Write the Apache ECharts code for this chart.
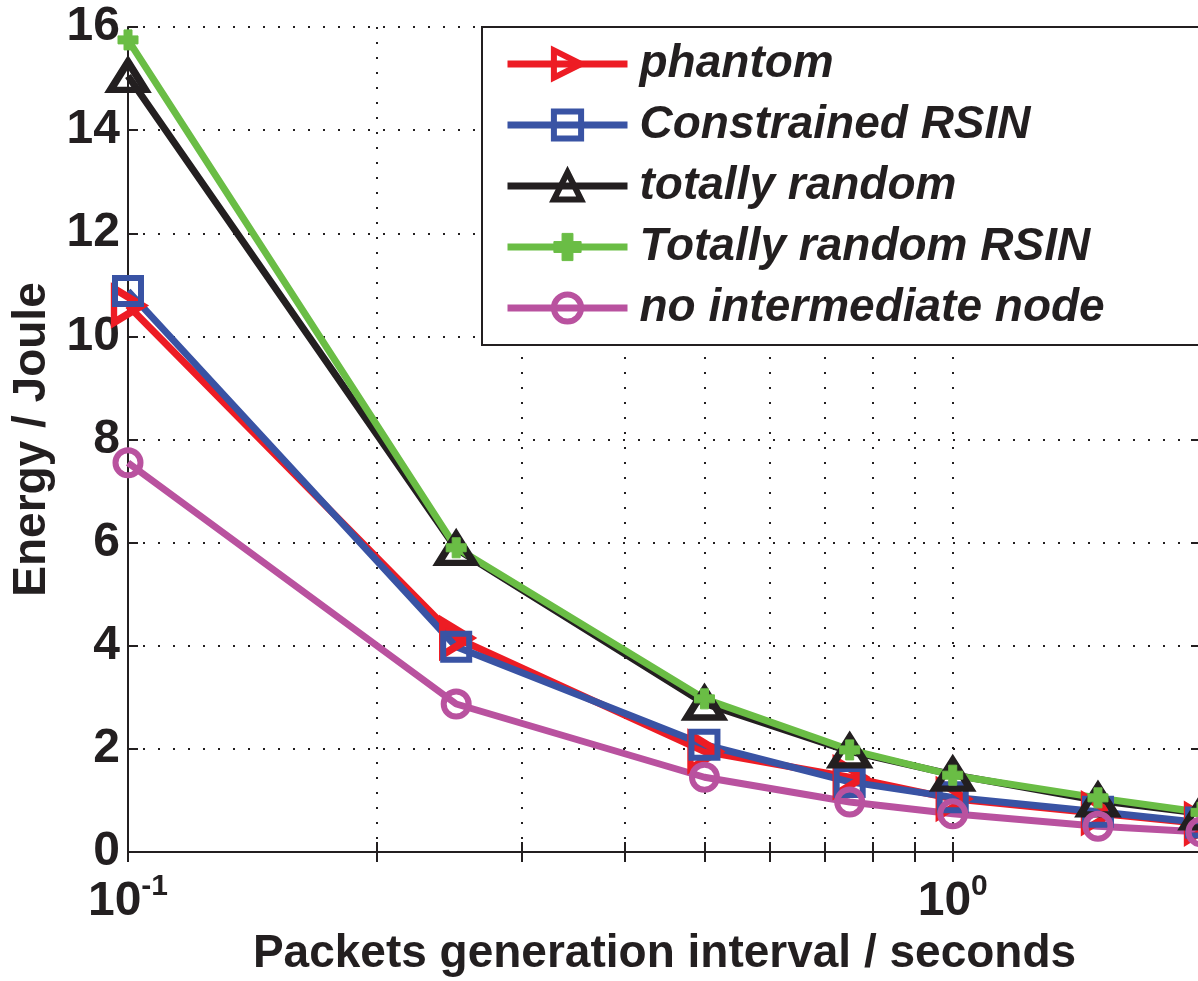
<!DOCTYPE html>
<html>
<head>
<meta charset="utf-8">
<title>Energy / Joule vs packets generation interval</title>
<script src="https://cdn.jsdelivr.net/npm/echarts@6/dist/echarts.min.js"></script>
<style>
    html, body { margin: 0; padding: 0; background: #fff; }
    #chart { width: 1198px; height: 981px; }
</style>
</head>
<body>
<div id="chart"></div>
<script>
// packet generation interval (s), log x axis
var intervals = [0.1, 0.25, 0.5, 0.75, 1, 1.5, 2];

// energy in joule
var phantom = [10.6, 4.15, 1.95, 1.45, 1.03, 0.75, 0.55];
var constrainedRSIN = [10.88, 3.98, 2.08, 1.36, 1.06, 0.78, 0.57];
var totallyRandom = [15.05, 5.88, 2.88, 1.95, 1.5, 1.0, 0.75];
var totallyRandomRSIN = [15.75, 5.9, 2.97, 1.98, 1.49, 1.05, 0.77];
var noIntermediate = [7.55, 2.87, 1.45, 0.97, 0.74, 0.5, 0.39];

var seriesNames = ['phantom', 'Constrained RSIN', 'totally random', 'Totally random RSIN', 'no intermediate node'];

// ticks / grid lines of the log axis
var xTickValues = [0.1, 0.2, 0.3, 0.4, 0.5, 0.6, 0.7, 0.8, 0.9, 1, 2];
var xLabelValues = [0.1, 1];

(function(){
    var font = '"Liberation Sans", Arial, Helvetica, sans-serif',
        ink = '#231F20',
        dotted = { color: ink, width: 2, type: [2, 13] },
        chart = echarts.init(document.getElementById('chart'), null, { renderer: 'canvas' });

    function pairs(ys){
        return ys.map(function(y, i){ return [intervals[i], y]; });
    }

    // hollow markers are see-through, like matlab's default face colour 'none'
    function lineSeries(name, ys, color, symbol, size, rotate, border){
        return {
            name: name,
            type: 'line',
            data: pairs(ys),
            symbol: symbol,
            symbolSize: size,
            symbolRotate: rotate,
            showAllSymbol: true,
            clip: false,
            lineStyle: { color: color, width: 7 },
            itemStyle: border ? { color: 'rgba(255,255,255,0)', borderColor: color, borderWidth: border }
                              : { color: color, borderColor: color, borderWidth: 1 },
            emphasis: { disabled: true }
        };
    }

    function legendItem(name, border){
        return {
            name: name,
            itemStyle: { borderWidth: border },
            lineStyle: { width: 7 }
        };
    }

    var axisTickStyle = { show: true, inside: true, length: 10, lineStyle: { color: ink, width: 2 } };

    var option = {
        animation: false,
        backgroundColor: '#fff',
        textStyle: { fontFamily: font },
        grid: { left: 128, right: -3, top: 27, bottom: 129, containLabel: false, outerBoundsMode: 'none' },
        legend: {
            orient: 'vertical',
            left: 482,
            top: 27,
            data: [
                legendItem(seriesNames[0], 6),
                legendItem(seriesNames[1], 6),
                legendItem(seriesNames[2], 6),
                legendItem(seriesNames[3], 1),
                legendItem(seriesNames[4], 6)
            ],
            itemWidth: 120,
            itemHeight: 34,
            itemGap: 15,
            padding: [14, 200, 14, 22],
            backgroundColor: '#fff',
            borderColor: ink,
            borderWidth: 2,
            borderRadius: 0,
            lineStyle: { width: 7 },
            textStyle: {
                fontFamily: font,
                fontSize: 46,
                lineHeight: 46,
                fontStyle: 'italic',
                fontWeight: 'bold',
                color: ink,
                padding: [0, 0, 0, 7]
            }
        },
        xAxis: [{
            type: 'log',
            logBase: 10,
            min: 0.1,
            max: 2,
            position: 'bottom',
            name: 'Packets generation interval / seconds',
            nameLocation: 'middle',
            nameGap: 78,
            nameTextStyle: { fontFamily: font, fontSize: 46, fontWeight: 'bold', color: ink },
            axisLine: { show: true, lineStyle: { color: ink, width: 2 } },
            axisTick: Object.assign({ customValues: xTickValues }, axisTickStyle),
            axisLabel: {
                customValues: xLabelValues,
                margin: 20,
                formatter: function(v){
                    var e = Math.round(Math.log(v) / Math.LN10);
                    return '{b|10}{s|' + e + '}';
                },
                rich: {
                    b: { fontFamily: font, fontSize: 48, lineHeight: 60, fontWeight: 'bold', color: ink },
                    s: { fontFamily: font, fontSize: 30, lineHeight: 30, fontWeight: 'bold', color: ink, verticalAlign: 'top' }
                }
            },
            splitLine: { show: true, lineStyle: dotted },
            minorTick: { show: false },
            minorSplitLine: { show: false }
        }, {
            type: 'log',
            logBase: 10,
            min: 0.1,
            max: 2,
            position: 'top',
            axisLine: { show: true, lineStyle: { color: ink, width: 2 } },
            axisTick: Object.assign({ customValues: xTickValues }, axisTickStyle),
            axisLabel: { show: false },
            splitLine: { show: false }
        }],
        yAxis: [{
            type: 'value',
            min: 0,
            max: 16,
            interval: 2,
            position: 'left',
            name: 'Energy / Joule',
            nameLocation: 'middle',
            nameGap: 72,
            nameTextStyle: { fontFamily: font, fontSize: 46, fontWeight: 'bold', color: ink },
            axisLine: { show: true, lineStyle: { color: ink, width: 2 } },
            axisTick: axisTickStyle,
            axisLabel: { fontFamily: font, fontSize: 48, fontWeight: 'bold', color: ink, margin: 8 },
            splitLine: { show: true, lineStyle: dotted }
        }, {
            type: 'value',
            min: 0,
            max: 16,
            interval: 2,
            position: 'right',
            axisLine: { show: true, lineStyle: { color: ink, width: 2 } },
            axisTick: axisTickStyle,
            axisLabel: { show: false },
            splitLine: { show: false }
        }],
        series: [
            lineSeries(seriesNames[0], phantom, '#ED1C24', 'triangle', [34, 28], -90, 7),
            lineSeries(seriesNames[1], constrainedRSIN, '#3953A4', 'rect', 26, 0, 6),
            lineSeries(seriesNames[2], totallyRandom, ink, 'triangle', [35, 28], 0, 7),
            lineSeries(seriesNames[3], totallyRandomRSIN, '#6ABD45', 'path://M3,0H7V3H10V7H7V10H3V7H0V3H3Z', 20, 0, 0),
            lineSeries(seriesNames[4], noIntermediate, '#B9529F', 'circle', 25, 0, 6)
        ]
    };

    chart.setOption(option);
})();
</script>
</body>
</html>
